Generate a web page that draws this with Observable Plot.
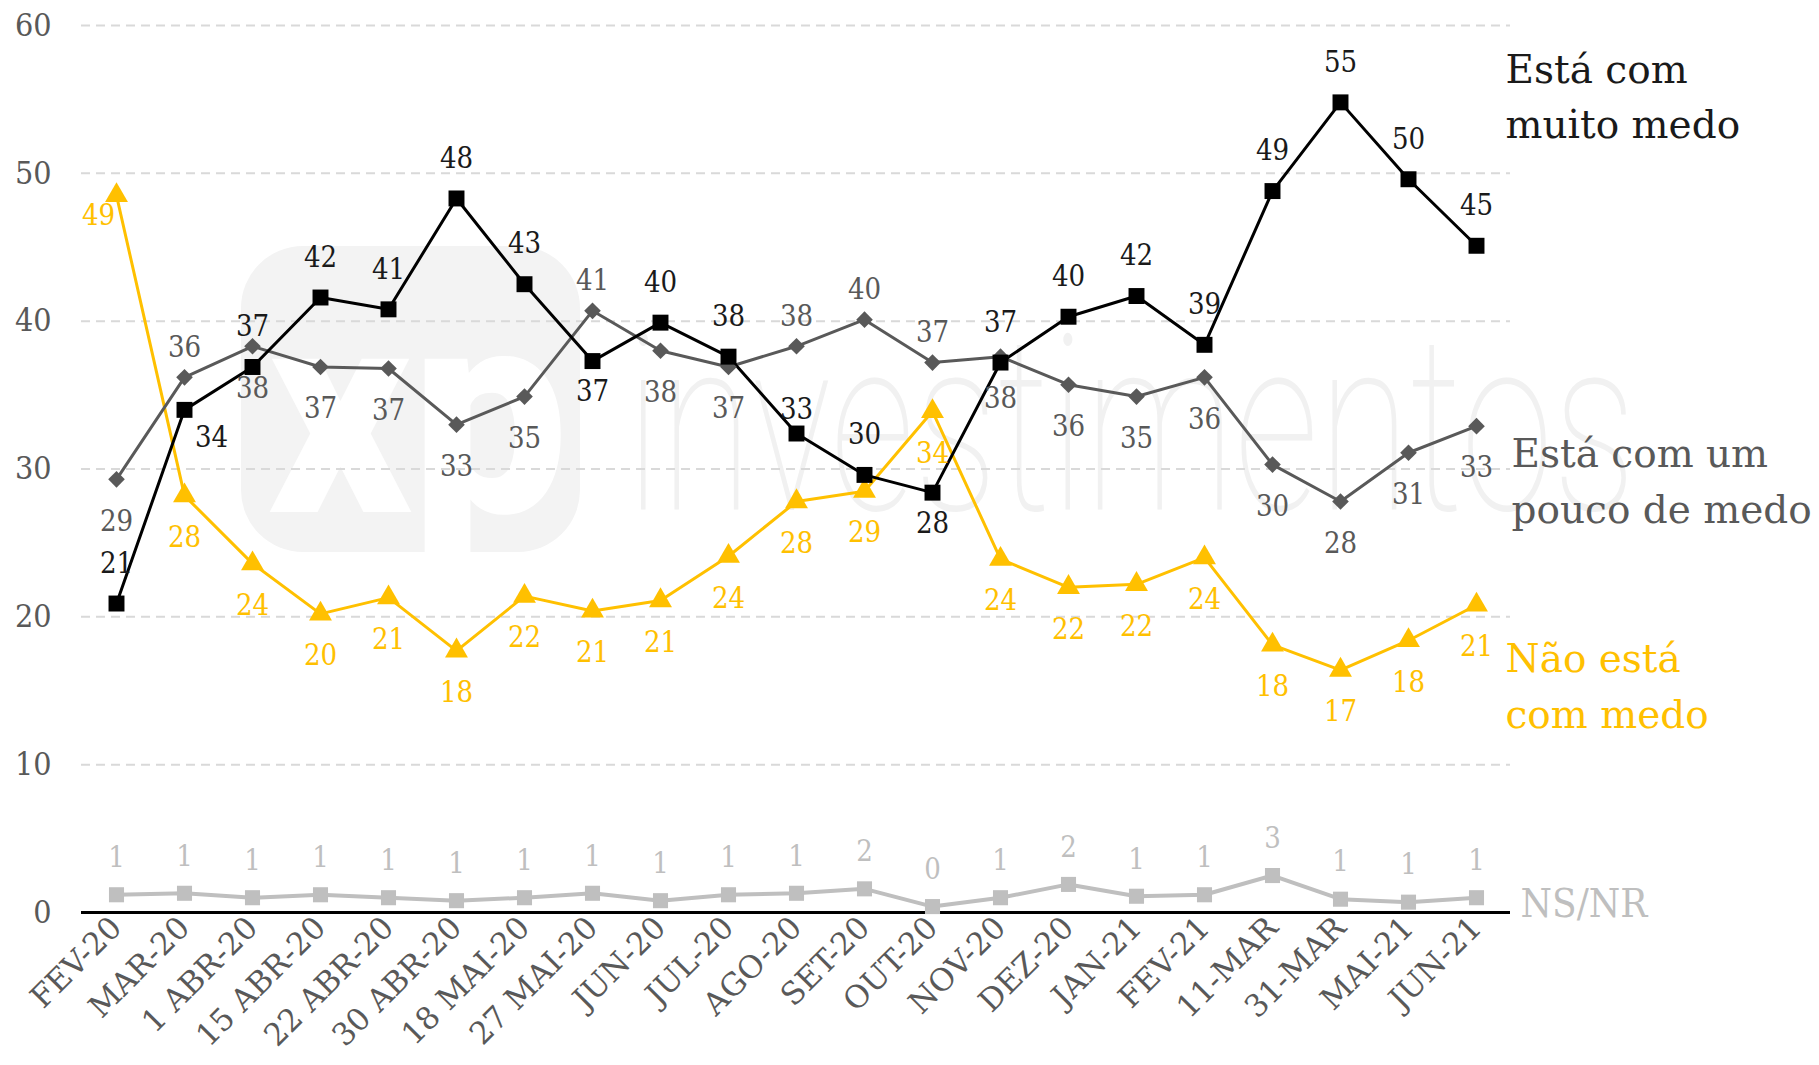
<!DOCTYPE html>
<html><head><meta charset="utf-8">
<script src="https://cdn.jsdelivr.net/npm/d3@7"></script>
<script src="https://cdn.jsdelivr.net/npm/@observablehq/plot@0.6"></script>
<style>
body{margin:0;background:#fff;}
#wrap{position:relative;width:1819px;height:1065px;overflow:hidden;}
#wm{position:absolute;left:0;top:0;z-index:0;}
#chart{position:absolute;left:0;top:0;z-index:1;}
</style></head><body>
<div id="wrap">
<svg id="wm" width="1819" height="1065">
  <rect x="241" y="246" width="339" height="306" rx="62" fill="#f3f3f3"/>
  <text x="268" y="512" font-family="Roboto" font-weight="900" font-size="290" fill="#ffffff" textLength="300" lengthAdjust="spacingAndGlyphs">xp</text>
  <text x="626" y="510" font-family="Roboto" font-weight="100" font-size="245" fill="#f1f1f1" textLength="1010" lengthAdjust="spacingAndGlyphs">investimentos</text>
</svg>
<div id="chart"></div>
</div>
<script>
const categories = ["FEV-20","MAR-20","1 ABR-20","15 ABR-20","22 ABR-20","30 ABR-20","18 MAI-20","27 MAI-20","JUN-20","JUL-20","AGO-20","SET-20","OUT-20","NOV-20","DEZ-20","JAN-21","FEV-21","11-MAR","31-MAR","MAI-21","JUN-21"];

const muitoMedo = [20.9,34.0,36.9,41.6,40.8,48.3,42.5,37.3,39.9,37.6,32.4,29.6,28.4,37.2,40.3,41.7,38.4,48.8,54.8,49.6,45.1];
const muitoLabels = [21,34,37,42,41,48,43,37,40,38,33,30,28,37,40,42,39,49,55,50,45];
const muitoPos = ["t","br","t","t","t","t","t","b","t","t","ts","t","b","t","t","t","t","t","t","t","t"];

const poucoMedo = [29.3,36.2,38.3,36.9,36.8,33.0,34.9,40.7,38.0,36.9,38.3,40.1,37.2,37.6,35.7,34.9,36.2,30.3,27.8,31.1,32.9];
const poucoLabels = [29,36,38,37,37,33,35,41,38,37,38,40,37,38,36,35,36,30,28,31,33];
const poucoPos = ["b","t","b","b","b","b","b","t","b","b","t","t","t","b","b","b","b","b","b","b","b"];

const semMedo = [48.5,28.2,23.6,20.2,21.3,17.7,21.4,20.4,21.1,24.1,27.8,28.5,33.9,23.9,22.0,22.2,24.0,18.1,16.4,18.4,20.8];
const semLabels = [49,28,24,20,21,18,22,21,21,24,28,29,34,24,22,22,24,18,17,18,21];
const semPos = ["bl","b","b","b","b","b","b","b","b","b","b","b","b","b","b","b","b","b","b","b","b"];

const nsnr = [1.2,1.3,1.0,1.2,1.0,0.8,1.0,1.3,0.8,1.2,1.3,1.6,0.4,1.0,1.9,1.1,1.2,2.5,0.9,0.7,1.0];
const nsnrLabels = [1,1,1,1,1,1,1,1,1,1,1,2,0,1,2,1,1,3,1,1,1];
const nsnrPos = categories.map(() => "t");

const seriesNames = ["Está com\nmuito medo", "Está com um\npouco de medo", "Não está\ncom medo", "NS/NR"];
const yTicks = [0,10,20,30,40,50,60];
const gridTicks = [10,20,30,40,50,60];

const numFont = "'DejaVu Serif Condensed', 'DejaVu Serif', serif";
const nameFont = "'DejaVu Serif', serif";

function rows(values, labels, pos) {
  return categories.map((c, i) => ({cat: c, value: values[i], label: String(labels[i]), pos: pos[i]}));
}

const series = [
  {name: seriesNames[3], data: rows(nsnr, nsnrLabels, nsnrPos), color: "#bfbfbf", text: "#bfbfbf", symbol: "square", r: 8.5, sw: 4,
   off: {t: [0,-37]}, nameOff: [44, 1], nameSize: 40, nameFont: numFont},
  {name: seriesNames[2], data: rows(semMedo, semLabels, semPos), color: "#ffc000", text: "#ffc000", symbol: "triangle", r: 8.5, sw: 3,
   off: {b: [0,42], bl: [-18,20]}, nameOff: [29, 77], nameSize: 39, nameFont: nameFont},
  {name: seriesNames[1], data: rows(poucoMedo, poucoLabels, poucoPos), color: "#595959", text: "#595959", symbol: "diamond2", r: 7.5, sw: 3,
   off: {t: [0,-30], b: [0,42]}, nameOff: [35, 51], nameSize: 39, nameFont: nameFont},
  {name: seriesNames[0], data: rows(muitoMedo, muitoLabels, muitoPos), color: "#000000", text: "#1a1a1a", symbol: "square", r: 9, sw: 3,
   off: {t: [0,-40], ts: [0,-24], b: [0,31], br: [27,28]}, nameOff: [29, -153], nameSize: 39, nameFont: nameFont}
];

const marks = [
  Plot.ruleY(gridTicks, {stroke: "#d9d9d9", strokeWidth: 2, strokeDasharray: "9,6"}),
  Plot.axisY(yTicks, {tickSize: 0, tickPadding: 30, fontSize: 32, color: "#595959", fontFamily: numFont, label: null}),
  Plot.axisX({tickRotate: -45, tickSize: 0, tickPadding: 10, fontSize: 31, color: "#595959", fontFamily: nameFont, label: null})
];
for (const s of series) {
  marks.push(Plot.line(s.data, {x: "cat", y: "value", stroke: s.color, strokeWidth: s.sw}));
}
marks.push(Plot.ruleY([0], {stroke: "#000", strokeWidth: 3}));
for (const s of series) {
  marks.push(Plot.dot(s.data, {x: "cat", y: "value", symbol: s.symbol, r: s.r, fill: s.color, stroke: "none"}));
}
for (const s of series) {
  for (const [code, [dx, dy]] of Object.entries(s.off)) {
    marks.push(Plot.text(s.data, {filter: d => d.pos === code, x: "cat", y: "value", text: "label", dx, dy,
      fill: s.text, fontSize: 29, fontFamily: numFont, lineAnchor: "middle"}));
  }
  const last = s.data.slice(-1).map(d => ({...d, name: s.name}));
  marks.push(Plot.text(last, {x: "cat", y: "value", text: "name", dx: s.nameOff[0], dy: s.nameOff[1],
    textAnchor: "start", lineAnchor: "middle", lineHeight: 1.43, fill: s.text, fontSize: s.nameSize, fontFamily: s.nameFont}));
}

const chart = Plot.plot({
  width: 1819,
  height: 1065,
  marginTop: 25,
  marginBottom: 153,
  marginLeft: 81,
  marginRight: 309,
  style: {background: "transparent", overflow: "visible"},
  x: {type: "point", domain: categories, padding: 0.48},
  y: {domain: [0, 60]},
  marks
});
document.getElementById("chart").appendChild(chart);
</script>
</body></html>
